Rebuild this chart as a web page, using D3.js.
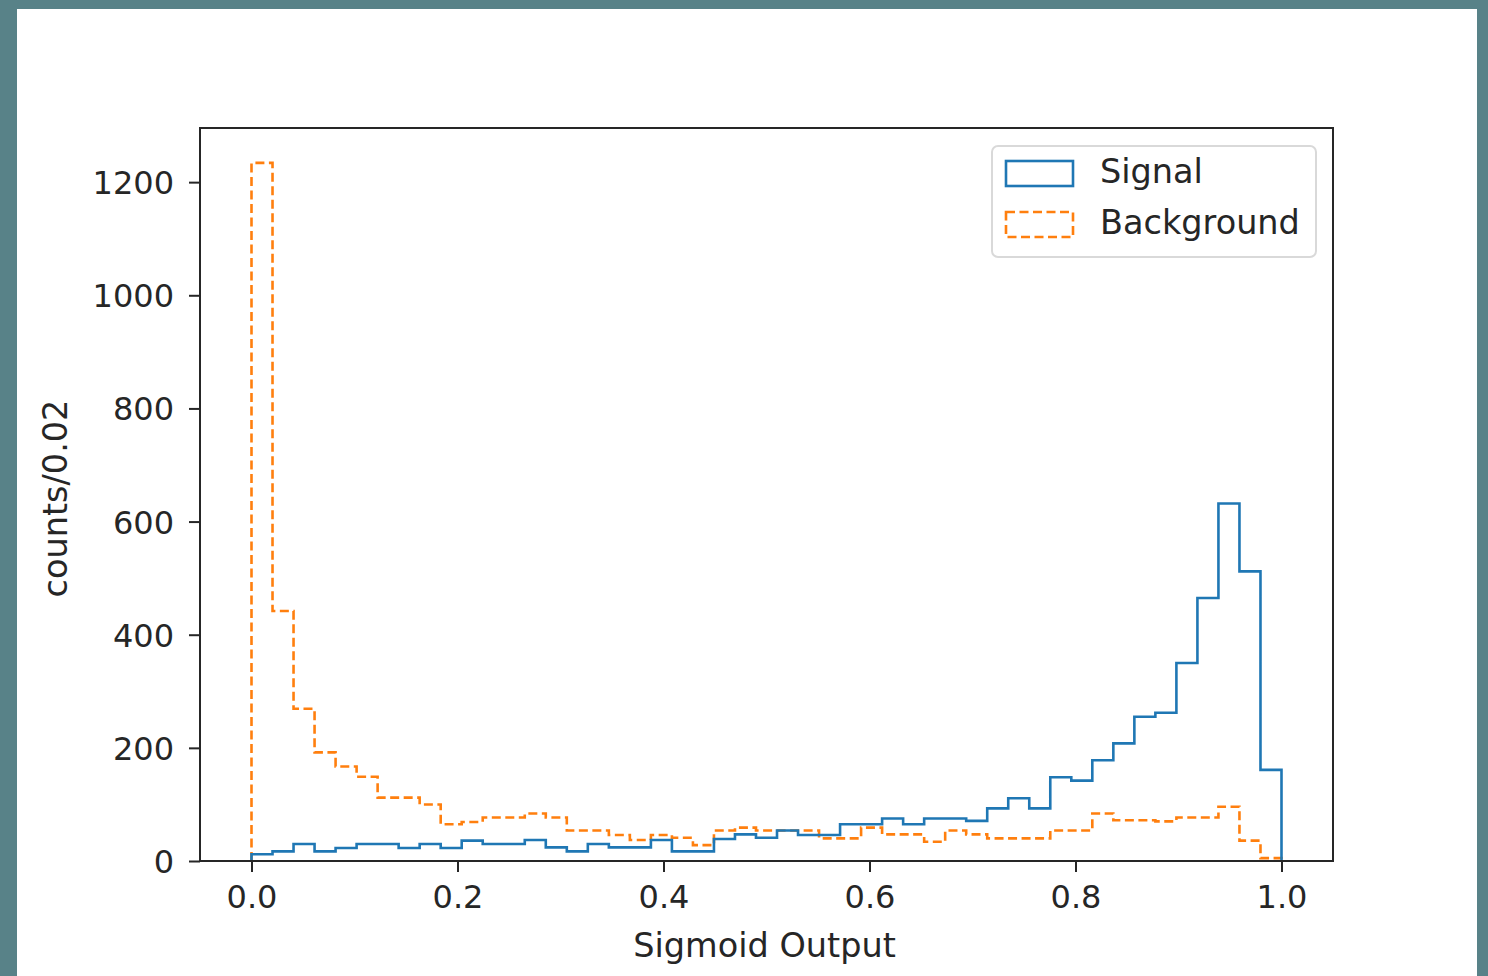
<!DOCTYPE html>
<html lang="en">
<head>
    <meta charset="UTF-8">
    <title>Sigmoid Output</title>
    <script src="https://d3js.org/d3.v7.min.js"></script>
    <style>
        html, body {
            margin: 0;
            padding: 0;
            background: #588288;
        }
        #chart {
            position: absolute;
            left: 17px;
            top: 9px;
            width: 1460px;
            height: 967px;
            background: #fff;
        }
        svg text {
            font-family: "DejaVu Sans", sans-serif;
            fill: #262626;
        }
    </style>
</head>
<body>
    <div id="chart"></div>

    <script>
        // histogram counts, 49 equal bins over [0, 1] (edges = linspace(0, 1, 50))
        var signal = [
            12, 17, 30, 17, 23, 30, 30, 23, 30, 23,
            36, 30, 30, 37, 24, 17, 30, 24, 24, 37,
            17, 17, 39, 47, 41, 54, 46, 46, 65, 65,
            75, 65, 75, 75, 71, 93, 111, 93, 148, 142,
            178, 208, 255, 262, 350, 465, 632, 512, 161
        ];
        var background = [
            1234, 442, 269, 192, 167, 149, 112, 112, 100, 65,
            69, 77, 77, 84, 77, 54, 54, 46, 37, 46,
            41, 28, 54, 59, 54, 54, 54, 40, 40, 59,
            47, 47, 34, 54, 47, 40, 40, 40, 54, 54,
            84, 72, 72, 70, 77, 77, 96, 36, 5
        ];
        var xTicks = [0.0, 0.2, 0.4, 0.6, 0.8, 1.0];
        var yTicks = [0, 200, 400, 600, 800, 1000, 1200];
        var seriesNames = ["Signal", "Background"];

        var nBins = signal.length;
        var binEdges = d3.range(nBins + 1).map(function(i) { return i / nBins; });

        // page coords of the chart div are offset by (17, 9)
        var offX = 17, offY = 9;
        var margin = {top: 128 - offY, right: 1460 - (1333 - offX), bottom: 967 - (861 - offY), left: 200 - offX},
            width = 1460 - margin.left - margin.right,
            height = 967 - margin.top - margin.bottom;

        var svg = d3.select("#chart").append("svg")
            .attr("width", 1460)
            .attr("height", 967)
            .append("g")
            .attr("transform", "translate(" + margin.left + "," + margin.top + ")");

        var ymax = d3.max(background.concat(signal)) * 1.05;

        var x = d3.scaleLinear().domain([-0.05, 1.05]).range([0, width]);
        var y = d3.scaleLinear().domain([0, ymax]).range([height, 0]);

        function stepPoints(counts) {
            var pts = [[binEdges[0], 0]];
            counts.forEach(function(c, i) {
                pts.push([binEdges[i], c]);
                pts.push([binEdges[i + 1], c]);
            });
            pts.push([binEdges[counts.length], 0]);
            return pts;
        }

        var line = d3.line()
            .x(function(d) { return x(d[0]); })
            .y(function(d) { return y(d[1]); });

        var lw = 2.6;

        svg.append("path")
            .datum(stepPoints(background))
            .attr("d", line)
            .attr("fill", "none")
            .attr("stroke", "#ff7f0e")
            .attr("stroke-width", lw)
            .attr("stroke-dasharray", "9,4.5");

        svg.append("path")
            .datum(stepPoints(signal))
            .attr("d", line)
            .attr("fill", "none")
            .attr("stroke", "#1f77b4")
            .attr("stroke-width", lw);

        // axes
        var xAxis = svg.append("g")
            .attr("transform", "translate(0," + height + ")")
            .call(d3.axisBottom(x).tickValues(xTicks).tickFormat(d3.format(".1f")).tickSizeOuter(0).tickSize(11).tickPadding(13));

        var yAxis = svg.append("g")
            .call(d3.axisLeft(y).tickValues(yTicks).tickFormat(d3.format("d")).tickSizeOuter(0).tickSize(11).tickPadding(15));

        [xAxis, yAxis].forEach(function(a) {
            a.select(".domain").remove();
            a.selectAll(".tick line").attr("stroke", "#262626").attr("stroke-width", 2);
            a.selectAll(".tick text").style("font-size", "32px").attr("fill", "#262626");
        });
        yAxis.selectAll(".tick text").attr("dy", "0.36em");

        // frame
        svg.append("rect")
            .attr("x", 0)
            .attr("y", 0)
            .attr("width", width)
            .attr("height", height)
            .attr("fill", "none")
            .attr("stroke", "#262626")
            .attr("stroke-width", 2);

        svg.append("text")
            .attr("x", width / 2 - 2)
            .attr("y", height + 96)
            .attr("text-anchor", "middle")
            .style("font-size", "33.5px")
            .text("Sigmoid Output");

        svg.append("text")
            .attr("transform", "translate(" + (-133) + "," + (height / 2 + 4) + ") rotate(-90)")
            .attr("text-anchor", "middle")
            .style("font-size", "33.5px")
            .text("counts/0.02");

        // legend
        var lg = svg.append("g")
            .attr("transform", "translate(" + (992 - 200) + "," + (146 - 128) + ")");

        lg.append("rect")
            .attr("width", 324)
            .attr("height", 111)
            .attr("rx", 6)
            .attr("fill", "#fff")
            .attr("fill-opacity", 0.8)
            .attr("stroke", "#d9d9d9")
            .attr("stroke-width", 2);

        var colors = ["#1f77b4", "#ff7f0e"];
        seriesNames.forEach(function(name, i) {
            lg.append("rect")
                .attr("x", 14)
                .attr("y", 15 + i * 51)
                .attr("width", 67)
                .attr("height", 25)
                .attr("fill", "none")
                .attr("stroke", colors[i])
                .attr("stroke-width", lw)
                .attr("stroke-dasharray", i === 1 ? "9,4.5" : null);

            lg.append("text")
                .attr("x", 108)
                .attr("y", 25 + i * 51)
                .attr("dy", "0.36em")
                .style("font-size", "33.5px")
                .text(name);
        });
    </script>
</body>
</html>
